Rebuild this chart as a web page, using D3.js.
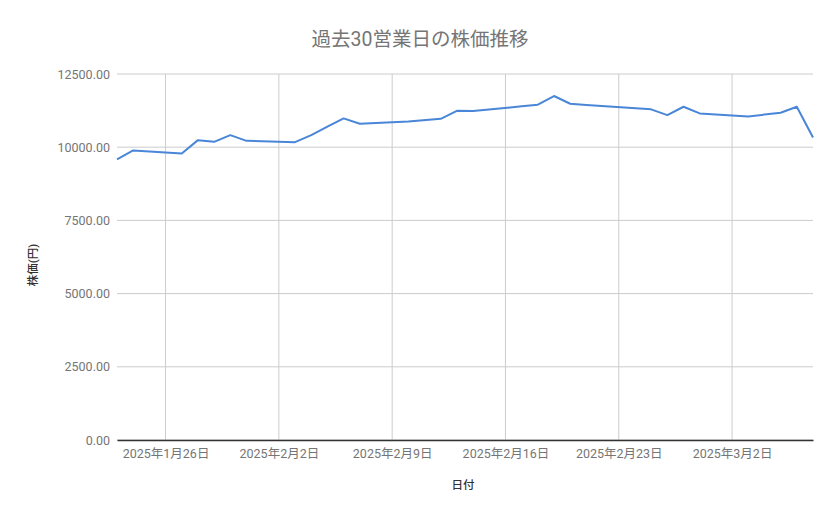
<!DOCTYPE html>
<html>
<head>
<meta charset="utf-8">
<script src="https://cdn.jsdelivr.net/npm/d3@7"></script>
<style>
  body { margin: 0; background: #fff; }
  text { font-family: Roboto, "Noto Sans CJK JP", sans-serif; }
</style>
</head>
<body>
<svg id="chart"></svg>
<script>
// 日付と終値
const dates = [
  "2025-01-23", "2025-01-24", "2025-01-27", "2025-01-28", "2025-01-29",
  "2025-01-30", "2025-01-31", "2025-02-03", "2025-02-04", "2025-02-05",
  "2025-02-06", "2025-02-07", "2025-02-10", "2025-02-12", "2025-02-13",
  "2025-02-14", "2025-02-17", "2025-02-18", "2025-02-19", "2025-02-20",
  "2025-02-21", "2025-02-25", "2025-02-26", "2025-02-27", "2025-02-28",
  "2025-03-03", "2025-03-04", "2025-03-05", "2025-03-06", "2025-03-07"
];
const prices = [
  9580, 9888, 9785, 10241, 10183,
  10412, 10217, 10172, 10412, 10700,
  10984, 10799, 10880, 10970, 11244,
  11234, 11395, 11450, 11748, 11484,
  11443, 11292, 11097, 11381, 11155,
  11052, 11114, 11176, 11381, 10333
];
const yTicks = [0, 2500, 5000, 7500, 10000, 12500];

const title = "過去30営業日の株価推移";
const xLabel = "日付";
const yLabel = "株価(円)";

const width = 839;
const height = 519;
const margin = { top: 74, right: 26, bottom: 79, left: 117 };

const parse = d3.timeParse("%Y-%m-%d");
const data = dates.map((d, i) => ({ date: parse(d), price: prices[i] }));

const svg = d3.select("#chart").attr("width", width).attr("height", height);

const x = d3.scaleTime()
  .domain(d3.extent(data, d => d.date))
  .range([margin.left, width - margin.right]);

const y = d3.scaleLinear()
  .domain([0, 12500])
  .range([height - margin.bottom, margin.top]);

// タイトル
svg.append("text")
  .attr("x", 420)
  .attr("y", 46)
  .attr("text-anchor", "middle")
  .attr("font-size", 19.5)
  .attr("fill", "#757575")
  .text(title);

// 横グリッド
svg.append("g")
  .selectAll("line")
  .data(yTicks)
  .join("line")
  .attr("x1", margin.left)
  .attr("x2", width - margin.right)
  .attr("y1", d => y(d))
  .attr("y2", d => y(d))
  .attr("stroke", "#cccccc")
  .attr("stroke-width", 1);

// 縦グリッド（毎週日曜）
const xTicks = x.ticks(d3.timeSunday.every(1));
svg.append("g")
  .selectAll("line")
  .data(xTicks)
  .join("line")
  .attr("x1", d => x(d))
  .attr("x2", d => x(d))
  .attr("y1", margin.top)
  .attr("y2", height - margin.bottom)
  .attr("stroke", "#cccccc")
  .attr("stroke-width", 1);

// Y軸ラベル
const yAxis = d3.axisLeft(y)
  .tickValues(yTicks)
  .tickFormat(d => d.toFixed(2))
  .tickSize(0)
  .tickPadding(7);

const gy = svg.append("g")
  .attr("transform", `translate(${margin.left}, 0)`)
  .call(yAxis);
gy.select(".domain").remove();
gy.selectAll("text")
  .attr("font-family", "Roboto, sans-serif")
  .attr("font-size", 12.5)
  .attr("fill", "#757575");

// X軸
const xAxis = d3.axisBottom(x)
  .tickValues(xTicks)
  .tickFormat(d => `${d.getFullYear()}年${d.getMonth() + 1}月${d.getDate()}日`)
  .tickSize(0)
  .tickPadding(9);

const gx = svg.append("g")
  .attr("transform", `translate(0, ${height - margin.bottom})`)
  .call(xAxis);
gx.select(".domain")
  .attr("stroke", "#333333")
  .attr("stroke-width", 1.3);
gx.selectAll("text")
  .attr("font-family", 'Roboto, "Noto Sans CJK JP", sans-serif')
  .attr("font-size", 12.5)
  .attr("fill", "#757575");

// 折れ線
const line = d3.line()
  .x(d => x(d.date))
  .y(d => y(d.price));

svg.append("path")
  .datum(data)
  .attr("fill", "none")
  .attr("stroke", "#4a86d8")
  .attr("stroke-width", 2)
  .attr("stroke-linejoin", "round")
  .attr("d", line);

// 軸タイトル
svg.append("text")
  .attr("x", 463)
  .attr("y", 489)
  .attr("text-anchor", "middle")
  .attr("font-size", 11.5)
  .attr("font-weight", 500)
  .attr("fill", "#333333")
  .text(xLabel);

svg.append("text")
  .attr("transform", "translate(37, 265) rotate(-90)")
  .attr("text-anchor", "middle")
  .attr("font-size", 11.5)
  .attr("font-weight", 500)
  .attr("fill", "#333333")
  .text(yLabel);
</script>
</body>
</html>
